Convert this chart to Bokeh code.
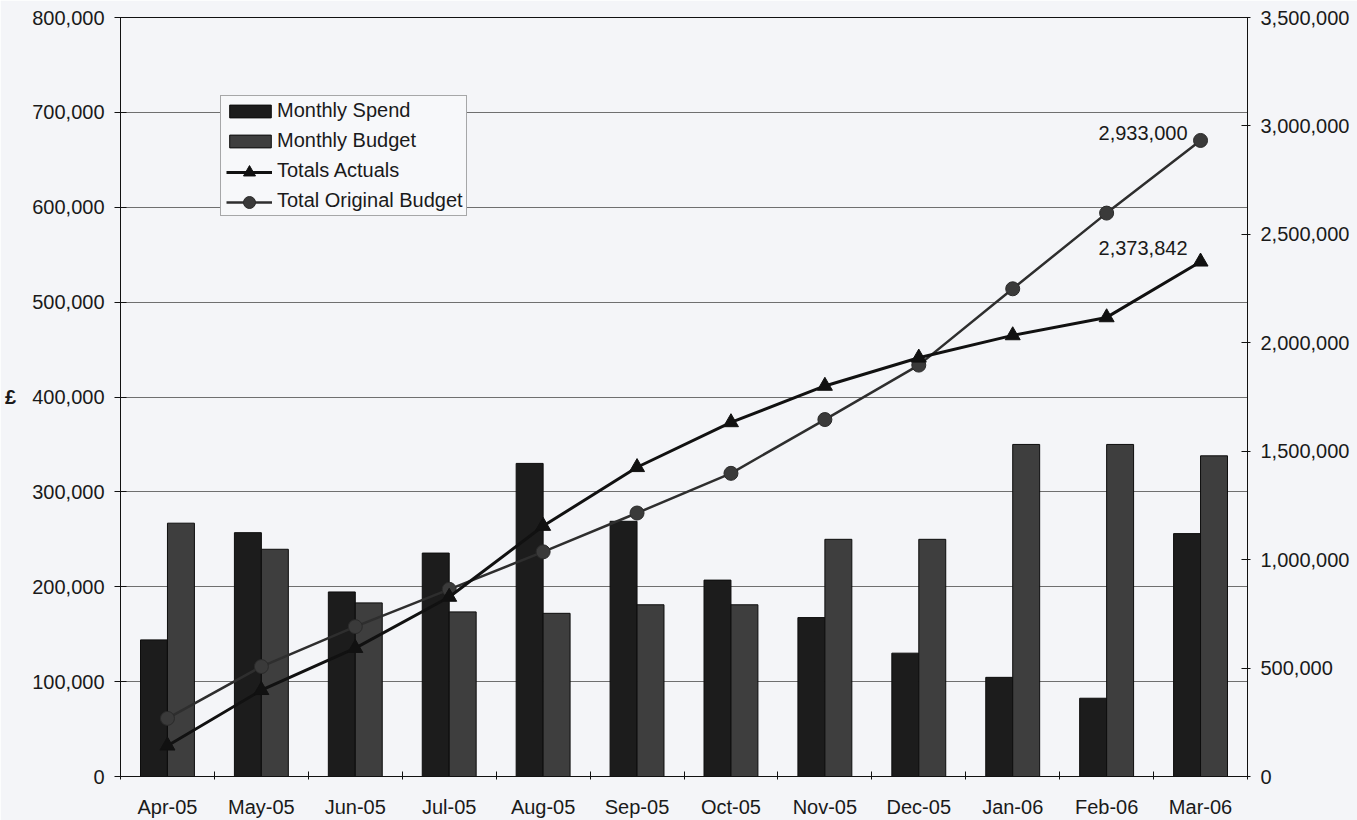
from bokeh.plotting import figure
from bokeh.models import (Range1d, LinearAxis, FixedTicker, NumeralTickFormatter,
                          Legend, LegendItem, CustomJSTickFormatter)
from bokeh.embed import file_html
from bokeh.resources import INLINE
from bokeh.core.properties import value

months = ["Apr-05", "May-05", "Jun-05", "Jul-05", "Aug-05", "Sep-05",
          "Oct-05", "Nov-05", "Dec-05", "Jan-06", "Feb-06", "Mar-06"]
monthly_spend = [144000, 257000, 194500, 235500, 330000, 269000,
                 207000, 167500, 130000, 104500, 82500, 256000]
monthly_budget = [267000, 239500, 183000, 173500, 172000, 181000,
                  181000, 250000, 250000, 350000, 350000, 338000]
totals_actuals = [142000, 398000, 592000, 828000, 1155000, 1426000,
                  1633000, 1801000, 1931000, 2034000, 2117000, 2373842]
total_original_budget = [268000, 507000, 691000, 863000, 1036000, 1215000,
                         1398000, 1646000, 1897000, 2249000, 2598000, 2933000]
left_ticks = [0, 100000, 200000, 300000, 400000, 500000, 600000, 700000, 800000]
right_ticks = [0, 500000, 1000000, 1500000, 2000000, 2500000, 3000000, 3500000]

FONT = "Liberation Sans"
TXT = "#1a1a1a"
BG = "#f4f5f8"
FS = "20px"

n = len(months)
xc = [i + 0.5 for i in range(n)]
bw = 0.287

p = figure(width=1357, height=820, x_range=Range1d(0, n), y_range=Range1d(0, 800000),
           output_backend="svg", toolbar_location=None,
           min_border_left=120, min_border_right=110, min_border_top=17, min_border_bottom=43)
p.background_fill_color = BG
p.border_fill_color = BG
p.outline_line_color = "#111111"
p.outline_line_width = 1

p.extra_y_ranges = {"right": Range1d(0, 3500000)}

# x axis
p.xaxis.ticker = FixedTicker(ticks=xc, minor_ticks=list(range(n + 1)))
p.xaxis.formatter = CustomJSTickFormatter(args=dict(months=months),
                                          code="return months[Math.floor(tick)] || '';")
p.xaxis.major_tick_in = 0
p.xaxis.major_tick_out = 0
p.xaxis.major_tick_line_color = None
p.xaxis.minor_tick_in = 5
p.xaxis.minor_tick_out = 3
p.xaxis.minor_tick_line_color = "#111111"
p.xaxis.major_label_standoff = 16
p.xaxis.axis_line_color = "#111111"

# left axis
yax = p.yaxis[0]
yax.ticker = FixedTicker(ticks=left_ticks)
yax.formatter = NumeralTickFormatter(format="0,0")
yax.major_tick_in = 6
yax.major_tick_out = 6
yax.minor_tick_line_color = None
yax.major_label_standoff = 10
yax.axis_line_color = "#111111"
yax.major_tick_line_color = "#111111"
if "axis_label_orientation" in yax.properties():
    yax.axis_label = "£"
    yax.axis_label_orientation = "horizontal"
    yax.axis_label_standoff = 13
    yax.axis_label_text_font = FONT
    yax.axis_label_text_font_size = FS
    yax.axis_label_text_font_style = "bold"
    yax.axis_label_text_color = TXT
else:
    yax.major_label_overrides = {400000: "£   400,000"}

# right axis
rax = LinearAxis(y_range_name="right", ticker=FixedTicker(ticks=right_ticks),
                 formatter=NumeralTickFormatter(format="0,0"))
rax.major_tick_in = 6
rax.major_tick_out = 3
rax.minor_tick_line_color = None
rax.major_label_standoff = 10
rax.axis_line_color = "#111111"
rax.major_tick_line_color = "#111111"
p.add_layout(rax, "right")

for ax in [p.xaxis[0], yax, rax]:
    ax.major_label_text_font = FONT
    ax.major_label_text_font_size = FS
    ax.major_label_text_color = TXT

p.xgrid.grid_line_color = None
p.ygrid.ticker = FixedTicker(ticks=left_ticks)
p.ygrid.grid_line_color = "#6f6f6f"
p.ygrid.grid_line_width = 1

# bars
r_spend = p.vbar(x=[v - bw / 2 for v in xc], top=monthly_spend, width=bw, bottom=0,
                 fill_color="#1c1c1c", line_color="#0d0d0d", line_width=1)
r_budget = p.vbar(x=[v + bw / 2 for v in xc], top=monthly_budget, width=bw, bottom=0,
                  fill_color="#3e3e3e", line_color="#0d0d0d", line_width=1)

# cumulative lines
r_bl = p.line(xc, total_original_budget, y_range_name="right", line_color="#2e2e2e", line_width=2.5)
r_bm = p.scatter(xc, total_original_budget, y_range_name="right", marker="circle", size=14,
                 fill_color="#3a3a3a", line_color="#2a2a2a")
r_al = p.line(xc, totals_actuals, y_range_name="right", line_color="#111111", line_width=3)
r_am = p.scatter(xc, totals_actuals, y_range_name="right", marker="triangle", size=15,
                 fill_color="#111111", line_color="#111111")

# end labels
p.text(x=[xc[-1]], y=[total_original_budget[-1]], text=[f"{total_original_budget[-1]:,}"],
       y_range_name="right", x_offset=-13, y_offset=-7, text_align="right", text_baseline="middle",
       text_font=value(FONT), text_font_size=FS, text_color=TXT)
p.text(x=[xc[-1]], y=[totals_actuals[-1]], text=[f"{totals_actuals[-1]:,}"],
       y_range_name="right", x_offset=-13, y_offset=-14, text_align="right", text_baseline="middle",
       text_font=value(FONT), text_font_size=FS, text_color=TXT)

# legend: box + texts + bar swatches
d1 = p.line(x=[], y=[], line_alpha=0)
d2 = p.line(x=[], y=[], line_alpha=0)
legend = Legend(items=[
    LegendItem(label="Monthly Spend", renderers=[r_spend]),
    LegendItem(label="Monthly Budget", renderers=[r_budget]),
    LegendItem(label="Totals Actuals", renderers=[d1]),
    LegendItem(label="Total Original Budget", renderers=[d2]),
], location=(100, 560))
legend.border_line_color = "#555555"
legend.border_line_width = 1
legend.background_fill_color = "#f7f8fa"
legend.background_fill_alpha = 1
legend.label_text_font = FONT
legend.label_text_font_size = FS
legend.label_text_color = TXT
legend.glyph_width = 52
legend.glyph_height = 16
legend.label_height = 20
legend.spacing = 7
legend.padding = 3
legend.margin = 0
legend.label_standoff = 1
p.add_layout(legend)

# legend: line + marker swatches (larger markers)
legend2 = Legend(items=[
    LegendItem(label=" ", renderers=[r_al, r_am]),
    LegendItem(label=" ", renderers=[r_bl, r_bm]),
], location=(106, 559))
legend2.border_line_color = None
legend2.background_fill_alpha = 0
legend2.label_text_font = FONT
legend2.label_text_font_size = FS
legend2.glyph_width = 46
legend2.glyph_height = 30
legend2.label_height = 20
legend2.spacing = 0
legend2.padding = 0
legend2.margin = 0
legend2.label_standoff = 0
p.add_layout(legend2)

open("out.html", "w").write(file_html(p, INLINE))
